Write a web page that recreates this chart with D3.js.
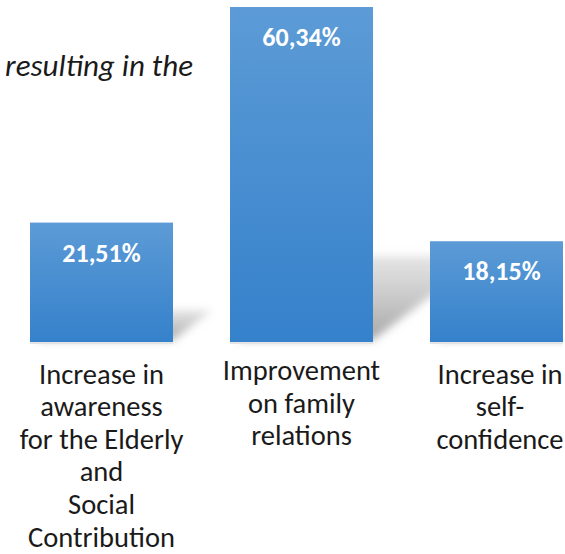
<!DOCTYPE html>
<html>
<head>
<meta charset="utf-8">
<script src="https://cdn.jsdelivr.net/npm/d3@7"></script>
<style>
  body { margin: 0; background: #fff; }
  svg { display: block; font-family: Carlito, Calibri, Lato, sans-serif; }
</style>
</head>
<body>
<div id="chart"></div>
<script>
// chart data
let categories = [
    "Increase in\nawareness\nfor the Elderly\nand\nSocial\nContribution",
    "Improvement\non family\nrelations",
    "Increase in\nself-\nconfidence"
]
let values = [21.51, 60.34, 18.15]
let valueLabels = ["21,51%", "60,34%", "18,15%"]
let titleText = "resulting in the"

let width = 565, height = 554
let svg = d3.select("#chart").append("svg")
    .attr("width", width)
    .attr("height", height)

let defs = svg.append("defs")
// bar gradient, light on top
let grad = defs.append("linearGradient").attr("id", "barGrad")
    .attr("x1", 0).attr("y1", 0).attr("x2", 0).attr("y2", 1)
grad.append("stop").attr("offset", "0%").attr("stop-color", "#5c9bd6")
grad.append("stop").attr("offset", "100%").attr("stop-color", "#3581cb")

// shadow fade
let sgrad = defs.append("linearGradient").attr("id", "shadowGrad")
    .attr("x1", 0).attr("y1", 1).attr("x2", 0).attr("y2", 0)
sgrad.append("stop").attr("offset", "0%").attr("stop-color", "#a6a6a6").attr("stop-opacity", 1)
sgrad.append("stop").attr("offset", "100%").attr("stop-color", "#c8c8c8").attr("stop-opacity", 0.5)
defs.append("filter").attr("id", "blur")
    .attr("x", "-30%").attr("y", "-30%").attr("width", "160%").attr("height", "160%")
    .append("feGaussianBlur").attr("stdDeviation", 4)

defs.append("clipPath").attr("id", "plotClip")
    .append("rect").attr("x", 0).attr("y", 0).attr("width", 563).attr("height", height)

let x = d3.scaleBand()
    .domain(categories)
    .range([1.5, 601.5])
    .paddingInner(0.285)
    .paddingOuter(0.1425)

let y = d3.scaleLinear()
    .domain([0, d3.max(values)])
    .range([342, 7])

let data = categories.map((c, i) => ({ cat: c, value: values[i], label: valueLabels[i] }))

// title fragment (cut off at left edge)
svg.append("text")
    .attr("x", 193)
    .attr("y", 76)
    .attr("text-anchor", "end")
    .attr("font-style", "italic")
    .attr("font-size", 31)
    .attr("fill", "#1a1a1a")
    .text(titleText)

let plot = svg.append("g").attr("clip-path", "url(#plotClip)")

// perspective shadows behind bars
let skewX = 0.33, skewY = 0.25
plot.selectAll(".shadow").data(data).enter().append("polygon")
    .attr("class", "shadow")
    .attr("points", d => {
        let x0 = x(d.cat), x1 = x(d.cat) + x.bandwidth()
        let b = y(0) - 2, h = y(0) - y(d.value)
        return [[x0 + 6, b], [x1, b], [x1 + skewX * h, b - skewY * h], [x0 + 6 + skewX * h, b - skewY * h]]
            .map(p => p.join(",")).join(" ")
    })
    .attr("fill", "url(#shadowGrad)")
    .attr("filter", "url(#blur)")

// faint floor line under bars
plot.selectAll(".floor").data(data).enter().append("rect")
    .attr("x", d => x(d.cat))
    .attr("y", y(0))
    .attr("width", x.bandwidth())
    .attr("height", 2)
    .attr("fill", "#e4e4e4")

plot.selectAll(".bar").data(data).enter().append("rect")
    .attr("class", "bar")
    .attr("x", d => x(d.cat))
    .attr("y", d => y(d.value))
    .attr("width", x.bandwidth())
    .attr("height", d => y(0) - y(d.value))
    .attr("fill", "url(#barGrad)")

plot.selectAll(".val").data(data).enter().append("text")
    .attr("class", "val")
    .attr("x", d => x(d.cat) + x.bandwidth() / 2)
    .attr("y", d => y(d.value) + 39)
    .attr("text-anchor", "middle")
    .attr("font-weight", "bold")
    .attr("font-size", 26)
    .attr("fill", "#fff")
    .text(d => d.label)

// category labels, wrapped on \n
let labels = svg.selectAll(".cat").data(data).enter().append("text")
    .attr("class", "cat")
    .attr("text-anchor", "middle")
    .attr("font-size", 28.5)
    .attr("fill", "#1a1a1a")
    .attr("transform", (d, i) => `translate(${x(d.cat) + x.bandwidth() / 2 - (i == 2 ? 1.5 : 0)},${i == 1 ? 380 : 383.5})`)
labels.each(function (d) {
    let t = d3.select(this)
    d.cat.split("\n").forEach((line, j) => {
        t.append("tspan").attr("x", 0).attr("y", j * 32.6).text(line)
    })
})
</script>
</body>
</html>
